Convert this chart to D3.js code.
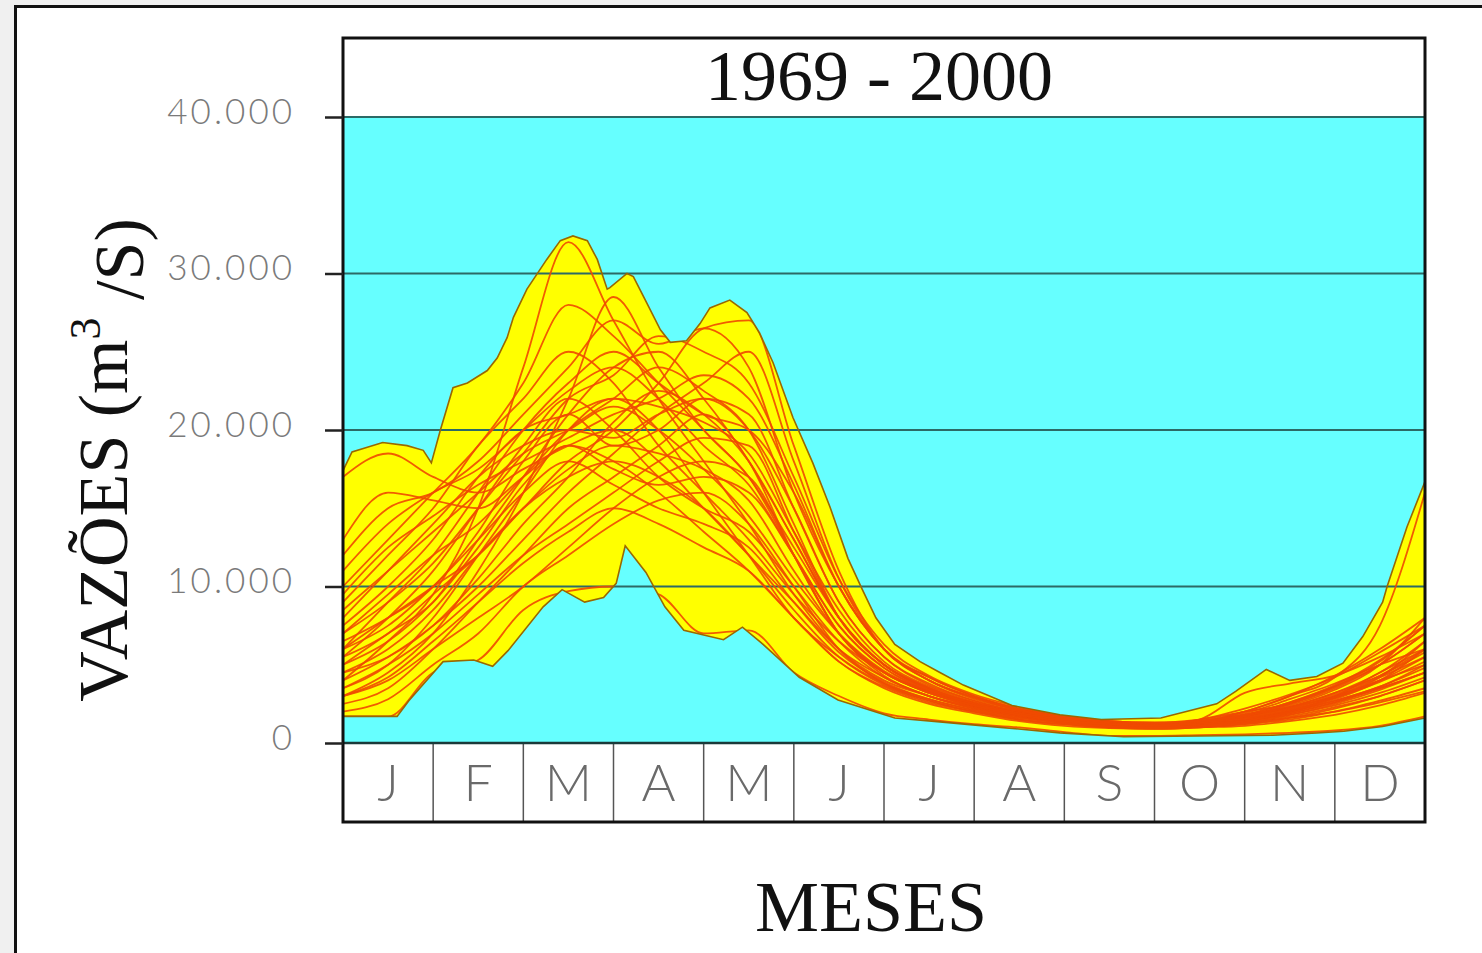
<!DOCTYPE html>
<html>
<head>
<meta charset="utf-8">
<script src="https://cdn.jsdelivr.net/npm/d3@7"></script>
<style>
  body { margin: 0; background: #f0f0f0; overflow: hidden; }
</style>
</head>
<body>
<div id="chart"></div>
<script>
// Months and ticks
const months = ["J", "F", "M", "A", "M", "J", "J", "A", "S", "O", "N", "D"];
const yTicks = [0, 10000, 20000, 30000, 40000];

// Sample positions (in months) for the yearly series: 1st and 15th of each month
const steps = [0, 0.5, 1, 1.5, 2, 2.5, 3, 3.5, 4, 4.5, 5, 5.5, 6, 6.5, 7, 7.5, 8, 8.5, 9, 9.5, 10, 10.5, 11, 11.5, 12];

// Envelope (max / min of all years)
const maxX = [0, 0.1, 0.27, 0.44, 0.71, 0.89, 0.98, 1.08, 1.22, 1.38, 1.6, 1.71, 1.82, 1.89, 2.04, 2.26, 2.41, 2.55, 2.71, 2.82, 2.93, 2.96, 3.15, 3.22, 3.37, 3.52, 3.63, 3.81, 3.96, 4.07, 4.29, 4.48, 4.62, 4.77, 4.99, 5.21, 5.4, 5.6, 5.76, 5.91, 6.12, 6.4, 6.62, 6.88, 7.42, 7.95, 8.41, 9.07, 9.69, 9.9, 10.24, 10.5, 10.8, 11.09, 11.31, 11.53, 11.58, 11.8, 12];
const maxQ = [17400, 18600, 18900, 19200, 19000, 18700, 17900, 20000, 22700, 23000, 23800, 24600, 25900, 27200, 29000, 30900, 32100, 32400, 32100, 30900, 29000, 29100, 30000, 29800, 28100, 26400, 25600, 25700, 26800, 27800, 28300, 27500, 26200, 24300, 20800, 17900, 15100, 11800, 9800, 8000, 6300, 5200, 4500, 3700, 2400, 1800, 1500, 1600, 2500, 3300, 4700, 4000, 4250, 5100, 6800, 9000, 10000, 13800, 16700];
const minX = [0, 0.6, 0.73, 1.11, 1.45, 1.66, 1.83, 2.22, 2.43, 2.68, 2.89, 3.03, 3.13, 3.36, 3.57, 3.78, 4.22, 4.43, 4.64, 5.06, 5.49, 6.12, 6.62, 7.29, 7.95, 8.66, 9.5, 10.31, 10.8, 11.1, 11.53, 12];
const minQ = [1700, 1700, 2700, 5200, 5300, 4900, 5900, 8700, 9800, 9000, 9300, 10200, 12600, 10900, 8700, 7200, 6600, 7400, 6400, 4200, 2750, 1600, 1350, 1000, 650, 400, 450, 500, 640, 750, 1050, 1600];

// Daily flow per year (m3/s), sampled on the 1st and 15th
const q1969 = [4000, 6500, 9500, 15000, 24000, 32000, 27000, 22000, 18000, 14000, 9500, 6000, 4000, 3000, 2200, 1700, 1400, 1200, 1100, 1300, 1800, 2300, 3000, 4200, 5500];
const q1970 = [3000, 4500, 7000, 11000, 16000, 22000, 28500, 24000, 20000, 17000, 12000, 7000, 4500, 3200, 2400, 1800, 1400, 1200, 1100, 1200, 1500, 2000, 2800, 4000, 6000];
const q1971 = [6000, 8000, 10000, 12000, 15000, 18000, 20000, 23000, 26500, 27000, 19000, 11000, 6000, 4200, 3000, 2200, 1700, 1400, 1300, 1500, 2000, 2500, 3500, 5000, 7000];
const q1972 = [17000, 18500, 17000, 16000, 17500, 19000, 20000, 18000, 15000, 12000, 9000, 6000, 4200, 3000, 2300, 1800, 1400, 1200, 1100, 1300, 2000, 3000, 4200, 7500, 16000];
const q1973 = [1700, 1700, 4500, 5300, 8500, 9700, 10000, 9500, 7000, 7200, 4500, 3000, 1900, 1500, 1200, 1000, 700, 450, 450, 500, 550, 650, 800, 1100, 1700];
const q1974 = [5000, 7000, 9000, 13000, 17000, 21000, 24000, 25000, 22000, 18000, 13000, 8000, 5000, 3500, 2500, 1900, 1500, 1200, 1100, 1200, 1700, 2300, 3200, 4500, 6500];
const q1975 = [8000, 11000, 14000, 17000, 19000, 20000, 19500, 21000, 22000, 20000, 15000, 9000, 5500, 3800, 2700, 2000, 1500, 1300, 1200, 1400, 1900, 2800, 3800, 5000, 6000];
const q1976 = [3500, 5000, 8000, 12000, 16000, 20000, 22000, 20000, 16000, 12000, 8000, 5500, 3800, 2800, 2100, 1600, 1300, 1100, 1000, 1100, 1400, 1900, 2600, 3500, 4500];
const q1977 = [9000, 12000, 15000, 19000, 22000, 25000, 23000, 19000, 16000, 13000, 9500, 6500, 4500, 3300, 2500, 1900, 1500, 1300, 1200, 1300, 1700, 2200, 3000, 4000, 5000];
const q1978 = [2500, 3500, 6000, 9000, 12000, 15000, 17000, 19000, 21000, 18000, 12000, 7000, 4500, 3200, 2300, 1700, 1300, 1100, 1000, 1100, 1300, 1700, 2300, 3000, 4000];
const q1979 = [6000, 9000, 12000, 16000, 20000, 23000, 25000, 23000, 21000, 20000, 16000, 10000, 6000, 4000, 2800, 2100, 1600, 1300, 1200, 1300, 1600, 2100, 2900, 4000, 5500];
const q1980 = [12000, 15000, 16000, 18000, 21000, 24000, 27000, 25500, 26500, 24000, 16000, 10000, 6000, 4200, 3000, 2200, 1700, 1400, 1300, 1400, 1800, 2400, 3400, 5000, 8000];
const q1981 = [4500, 6000, 8500, 12000, 15000, 17000, 18000, 17000, 15000, 12000, 8500, 5500, 3700, 2700, 2000, 1500, 1200, 1000, 950, 1000, 1200, 1500, 2000, 2700, 3500];
const q1982 = [7000, 9500, 12000, 14000, 17000, 20000, 22000, 24000, 22500, 20000, 14000, 8000, 5000, 3500, 2500, 1900, 1500, 1300, 1200, 1400, 2000, 3000, 4300, 6000, 8000];
const q1983 = [3000, 4000, 6000, 8000, 10000, 12500, 15000, 17000, 18000, 17000, 12000, 7000, 4300, 3000, 2200, 1700, 1300, 1100, 1000, 1100, 1300, 1600, 2000, 2600, 3300];
const q1984 = [5500, 8000, 11000, 15000, 19000, 22000, 20000, 17000, 15000, 13500, 10000, 6500, 4200, 3000, 2300, 1700, 1400, 1200, 1100, 1200, 1500, 2000, 2700, 3600, 4800];
const q1985 = [10000, 13000, 16000, 19000, 23000, 28000, 26000, 23000, 20000, 17000, 12500, 8000, 5000, 3500, 2600, 2000, 1500, 1300, 1200, 1500, 2200, 3100, 4200, 5800, 7500];
const q1986 = [4000, 5500, 7500, 10000, 13000, 16000, 18500, 21000, 23000, 25000, 18000, 10500, 6000, 4000, 2900, 2100, 1600, 1300, 1200, 1300, 1600, 2000, 2700, 3600, 5000];
const q1987 = [2000, 2800, 5000, 7000, 10000, 12000, 14000, 15500, 16000, 14000, 10000, 6000, 3800, 2700, 2000, 1500, 1200, 1000, 900, 1000, 1100, 1400, 1800, 2400, 3200];
const q1988 = [7500, 10000, 13000, 17000, 20000, 21000, 22000, 21500, 20500, 18500, 13500, 8500, 5200, 3600, 2600, 2000, 1500, 1300, 1200, 1300, 1700, 2300, 3200, 4300, 5800];
const q1989 = [6500, 8000, 10000, 13500, 18000, 21000, 19000, 20000, 22000, 21000, 15000, 9000, 5500, 3700, 2700, 2000, 1600, 1300, 1200, 1200, 1400, 2000, 3000, 4500, 6000];
const q1990 = [3500, 5000, 7000, 9500, 12000, 14000, 16000, 18000, 19500, 19000, 13500, 8000, 5000, 3400, 2500, 1900, 1400, 1200, 1100, 1200, 1500, 2100, 2900, 3900, 5200];
const q1991 = [8500, 11000, 13500, 16000, 18500, 20000, 21500, 20000, 17500, 14500, 10500, 7000, 4600, 3300, 2400, 1800, 1400, 1200, 1100, 1200, 1600, 2200, 3100, 4300, 6000];
const q1992 = [5000, 6500, 9000, 12500, 16500, 19000, 17500, 16500, 17000, 16000, 12000, 7500, 4800, 3300, 2400, 1800, 1400, 1200, 1100, 1200, 1400, 1900, 2600, 3500, 4500];
const q1993 = [11000, 14000, 16000, 17500, 20000, 22500, 24000, 22000, 19000, 16500, 12000, 7500, 4800, 3400, 2500, 1900, 1500, 1300, 1200, 1300, 1800, 2600, 3600, 5000, 7000];
const q1994 = [4500, 5500, 7500, 10500, 14000, 17000, 20500, 22500, 21000, 18000, 13000, 8000, 5000, 3500, 2500, 1900, 1500, 1200, 1100, 1200, 1400, 1800, 2400, 3200, 4200];
const q1995 = [6000, 7500, 10000, 13000, 16000, 18000, 16500, 15000, 14000, 12500, 9000, 5800, 3900, 2800, 2100, 1600, 1300, 1100, 1000, 1100, 1400, 2000, 2900, 4200, 6500];
const q1996 = [9500, 12500, 14500, 16500, 18000, 19500, 21000, 22000, 23500, 22000, 16500, 10000, 6000, 4000, 2900, 2100, 1600, 1300, 1200, 1300, 1700, 2500, 3600, 5200, 7500];
const q1997 = [3000, 4200, 6500, 9000, 11500, 13500, 15000, 14000, 12500, 11000, 8000, 5200, 3500, 2500, 1900, 1400, 1100, 950, 900, 1000, 1200, 1600, 2200, 3000, 4000];
const q1998 = [5500, 7000, 9500, 12000, 15000, 17500, 19000, 18500, 17500, 15500, 11000, 7000, 4500, 3200, 2400, 1800, 1400, 1200, 1100, 1500, 3200, 3800, 4300, 5500, 7000];
const q1999 = [7000, 9000, 11500, 15000, 18500, 22000, 23500, 26000, 25000, 23000, 17000, 10500, 6300, 4300, 3100, 2300, 1700, 1400, 1300, 1400, 1800, 2600, 3700, 5300, 7500];
const q2000 = [13000, 16000, 15500, 15000, 17000, 19000, 18000, 16000, 13500, 11000, 8000, 5200, 3600, 2600, 2000, 1500, 1200, 1050, 1000, 1100, 1300, 1800, 2500, 3400, 4500];

const series = [q1969, q1970, q1971, q1972, q1973, q1974, q1975, q1976, q1977, q1978, q1979, q1980,
  q1981, q1982, q1983, q1984, q1985, q1986, q1987, q1988, q1989, q1990, q1991, q1992,
  q1993, q1994, q1995, q1996, q1997, q1998, q1999, q2000];

const W = 1482, H = 953;
const pL = 343, pR = 1425, pT = 38, pB = 822;

const svg = d3.select("#chart").append("svg")
  .attr("width", W)
  .attr("height", H);

// Outer panel
svg.append("rect")
  .attr("x", 15.5).attr("y", 6.5)
  .attr("width", 1500).attr("height", 1000)
  .attr("fill", "#fff")
  .attr("stroke", "#111")
  .attr("stroke-width", 3);

const x = d3.scaleLinear().domain([0, 12]).range([pL, pR]);
const y = d3.scaleLinear().domain([0, 40000]).range([743, 117]);
const xm = d3.scaleBand().domain(d3.range(12)).range([pL, pR]);

// Plot background
svg.append("rect")
  .attr("x", pL).attr("y", y(40000))
  .attr("width", pR - pL).attr("height", y(0) - y(40000))
  .attr("fill", "#66ffff");

// Envelope (yellow band)
const envPts = maxX.map((m, i) => [x(m), y(maxQ[i])])
  .concat(minX.map((m, i) => [x(m), y(minQ[i])]).reverse());
const envPath = d3.line()(envPts) + "Z";

svg.append("clipPath").attr("id", "env")
  .append("path").attr("d", envPath);

svg.append("path")
  .attr("d", envPath)
  .attr("fill", "#ffff00");

// Grid lines
svg.append("g")
  .selectAll("line")
  .data(yTicks.slice(1))
  .enter()
  .append("line")
  .attr("x1", pL).attr("x2", pR)
  .attr("y1", d => y(d)).attr("y2", d => y(d))
  .attr("stroke", "#2c6a66")
  .attr("stroke-width", 2);

// Yearly lines
const line = d3.line()
  .x((d, i) => x(steps[i]))
  .y(d => y(d))
  .curve(d3.curveMonotoneX);

svg.append("g")
  .attr("clip-path", "url(#env)")
  .selectAll("path")
  .data(series)
  .enter()
  .append("path")
  .attr("d", line)
  .attr("fill", "none")
  .attr("stroke", "#f04a00")
  .attr("stroke-opacity", 0.9)
  .attr("stroke-width", 1.8);

// Envelope outline
const envLine = d3.line();
svg.append("path")
  .attr("d", envLine(maxX.map((m, i) => [x(m), y(maxQ[i])])))
  .attr("fill", "none").attr("stroke", "#9a6800").attr("stroke-width", 1.6);
svg.append("path")
  .attr("d", envLine(minX.map((m, i) => [x(m), y(minQ[i])])))
  .attr("fill", "none").attr("stroke", "#9a6800").attr("stroke-width", 1.6);

// Month boxes
svg.append("rect")
  .attr("x", pL).attr("y", y(0))
  .attr("width", pR - pL).attr("height", pB - y(0))
  .attr("fill", "#fff");

svg.append("g")
  .selectAll("line")
  .data(d3.range(1, 12))
  .enter()
  .append("line")
  .attr("x1", d => xm(d)).attr("x2", d => xm(d))
  .attr("y1", y(0)).attr("y2", pB)
  .attr("stroke", "#555")
  .attr("stroke-width", 1.5);

svg.append("g")
  .selectAll("text")
  .data(months)
  .enter()
  .append("text")
  .attr("x", (d, i) => xm(i) + xm.bandwidth() / 2)
  .attr("y", 801)
  .attr("text-anchor", "middle")
  .attr("font-family", "Lato, 'Open Sans', sans-serif")
  .attr("font-weight", 300)
  .attr("font-size", 52)
  .attr("fill", "#6a6a6a")
  .text(d => d);

// Frame lines
svg.append("line")
  .attr("x1", pL).attr("x2", pR).attr("y1", y(0)).attr("y2", y(0))
  .attr("stroke", "#1a3a3a").attr("stroke-width", 2.5);
svg.append("rect")
  .attr("x", pL).attr("y", pT)
  .attr("width", pR - pL).attr("height", pB - pT)
  .attr("fill", "none")
  .attr("stroke", "#111")
  .attr("stroke-width", 3);

// Y axis
const pt = d3.formatLocale({ decimal: ",", thousands: ".", grouping: [3], currency: ["R$", ""] });
const fmt = pt.format(",");

const yAxis = svg.append("g")
  .attr("transform", `translate(${pL},0)`)
  .call(d3.axisLeft(y).tickValues(yTicks).tickSize(18).tickPadding(30).tickFormat(fmt));
yAxis.select(".domain").remove();
yAxis.selectAll(".tick line").attr("stroke", "#222").attr("stroke-width", 2.5);
yAxis.selectAll(".tick text")
  .attr("dy", "0.18em")
  .attr("font-family", "Lato, 'Open Sans', sans-serif")
  .attr("font-weight", 300)
  .attr("font-size", 35)
  .attr("letter-spacing", 3)
  .attr("fill", "#7a7a7a");

// Title
svg.append("text")
  .attr("x", (pL + pR) / 2 - 5)
  .attr("y", 100)
  .attr("text-anchor", "middle")
  .attr("font-family", "'Liberation Serif', 'Times New Roman', serif")
  .attr("font-size", 72)
  .attr("fill", "#111")
  .text("1969 - 2000");

// X label
svg.append("text")
  .attr("x", 871)
  .attr("y", 931)
  .attr("text-anchor", "middle")
  .attr("font-family", "'Liberation Serif', 'Times New Roman', serif")
  .attr("font-size", 72)
  .attr("fill", "#111")
  .text("MESES");

// Y label
const yl = svg.append("text")
  .attr("transform", "translate(127,460) rotate(-90)")
  .attr("text-anchor", "middle")
  .attr("font-family", "'Liberation Serif', 'Times New Roman', serif")
  .attr("font-size", 70)
  .attr("fill", "#111");
yl.append("tspan").text("VAZÕES (m");
yl.append("tspan").attr("dy", "-0.62em").attr("font-size", 44).text("3");
yl.append("tspan").attr("dy", "0.62em").text(" /S)");
</script>
</body>
</html>
